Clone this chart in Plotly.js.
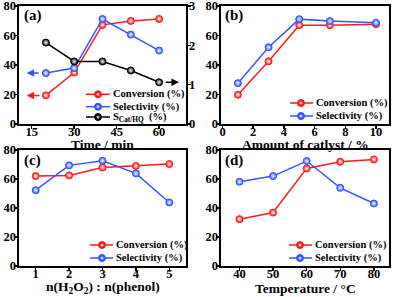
<!DOCTYPE html>
<html>
<head>
<meta charset="utf-8">
<script src="https://cdn.plot.ly/plotly-3.0.1.min.js"></script>
<style>html,body{margin:0;padding:0;background:#fff}#chart{width:393px;height:297px}</style>
</head>
<body>
<div id="chart"></div>
<script>
// ---------- data ----------
const timeMin = [20, 30, 40, 50, 60];
const convA = [19.4, 34.9, 67.2, 69.9, 71.2];
const selA = [34.5, 37.9, 71.2, 60.6, 49.8];
const sCatHQ = [2.07, 1.59, 1.59, 1.36, 1.06];

const catAmount = [1, 3, 5, 7, 10];
const convB = [19.8, 42.5, 67.0, 67.0, 67.7];
const selB = [27.7, 52.0, 71.1, 69.8, 68.6];

const ratio = [1, 2, 3, 4, 5];
const convC = [62.0, 62.5, 68.0, 69.0, 70.3];
const selC = [52.3, 69.4, 72.6, 63.9, 43.8];

const temp = [40, 50, 60, 70, 80];
const convD = [32.3, 36.9, 67.3, 71.9, 73.5];
const selD = [58.1, 62.0, 72.4, 53.9, 43.1];

const seriesNames = ['Conversion (%)', 'Selectivity (%)', 'S<sub>Cat/HQ</sub>  (%)'];
const panelLabels = ['(a)', '(b)', '(c)', '(d)'];
const axisTitles = ['Time / min', 'Amount of catlyst / %', 'n(H<sub>2</sub>O<sub>2</sub>) : n(phenol)', 'Temperature / °C'];

// ---------- style ----------
const W = 393, H = 297;
const RED = '#ff1a1a', BLUE = '#3355ff', BLACK = '#000000';
const FONT = '"Liberation Serif", "Times New Roman", serif';
const px = x => x / W;
const py = y => 1 - y / H;

function trace(x, y, color, xa, ya) {
  return {
    x: x, y: y, xaxis: xa, yaxis: ya, type: 'scatter', mode: 'lines+markers',
    showlegend: false, cliponaxis: false,
    line: {color: color, width: 1.5},
    marker: {size: 7, color: color, line: {color: color, width: 1},
             gradient: {type: 'radial', color: '#ffffff'}}
  };
}

const data = [
  trace(timeMin, convA, RED, 'x', 'y'),
  trace(timeMin, selA, BLUE, 'x', 'y'),
  trace(timeMin, sCatHQ, BLACK, 'x', 'y5'),
  trace(catAmount, convB, RED, 'x2', 'y2'),
  trace(catAmount, selB, BLUE, 'x2', 'y2'),
  trace(ratio, convC, RED, 'x3', 'y3'),
  trace(ratio, selC, BLUE, 'x3', 'y3'),
  trace(temp, convD, RED, 'x4', 'y4'),
  trace(temp, selD, BLUE, 'x4', 'y4')
];

function axis(domain, range, extra) {
  return Object.assign({
    domain: domain, range: range, showline: true, linewidth: 1.6, linecolor: '#000',
    mirror: true, ticks: 'outside', ticklen: 3, tickwidth: 1.5, tickcolor: '#000',
    showgrid: false, zeroline: false, fixedrange: true, ticklabeloverflow: 'allow',
    tickfont: {family: FONT, size: 12.5, color: '#000', weight: 'bold'}
  }, extra || {});
}
const XS = -8, YS = -4;

const xL = [px(19), px(186)], xR = [px(221), px(389)];
const yT = [py(124), py(6)], yB = [py(266), py(150)];

// ---------- legends (drawn as layout decorations) ----------
const shapes = [], annotations = [];
function legendRow(x0, x1, xm, xt, y, color, label) {
  shapes.push({type: 'line', xref: 'paper', yref: 'paper', x0: px(x0), x1: px(x1), y0: py(y), y1: py(y),
               line: {color: color, width: 1.5}});
  shapes.push({type: 'circle', xref: 'paper', yref: 'paper', xsizemode: 'pixel', ysizemode: 'pixel',
               xanchor: px(xm), yanchor: py(y), x0: -3.5, x1: 3.5, y0: -3.5, y1: 3.5,
               fillcolor: color, line: {color: color, width: 1}});
  shapes.push({type: 'circle', xref: 'paper', yref: 'paper', xsizemode: 'pixel', ysizemode: 'pixel',
               xanchor: px(xm), yanchor: py(y), x0: -1.5, x1: 1.5, y0: -1.5, y1: 1.5,
               fillcolor: 'rgba(255,255,255,0.75)', line: {width: 0}});
  annotations.push({xref: 'paper', yref: 'paper', x: px(xt), y: py(y), xanchor: 'left', yanchor: 'middle',
                    text: label, showarrow: false,
                    font: {family: FONT, size: 10.5, color: '#000', weight: 'bold'}});
}
legendRow(86, 110, 98, 111, 94.3, RED, seriesNames[0]);
legendRow(86, 110, 98, 111, 106.7, BLUE, seriesNames[1]);
legendRow(86, 110, 98, 111, 117, BLACK, seriesNames[2]);
legendRow(290, 313, 301, 314, 103, RED, seriesNames[0]);
legendRow(290, 313, 301, 314, 116, BLUE, seriesNames[1]);
legendRow(90, 113, 102, 114, 245, RED, seriesNames[0]);
legendRow(90, 113, 102, 114, 258, BLUE, seriesNames[1]);
legendRow(289, 312, 300, 313, 245, RED, seriesNames[0]);
legendRow(289, 312, 300, 313, 258, BLUE, seriesNames[1]);

// panel labels
[[22, 16], [223, 16], [22, 160], [223, 160]].forEach((p, i) => {
  annotations.push({xref: 'paper', yref: 'paper', x: px(p[0]), y: py(p[1]), xanchor: 'left', yanchor: 'middle',
                    text: panelLabels[i], showarrow: false,
                    font: {family: FONT, size: 15, color: '#000', weight: 'bold'}});
});
// axis titles
[[102.5, 144.5], [305, 144.5], [102.5, 287.5], [305, 288.5]].forEach((p, i) => {
  annotations.push({xref: 'paper', yref: 'paper', x: px(p[0]), y: py(p[1]), xanchor: 'center', yanchor: 'middle',
                    text: axisTitles[i], showarrow: false,
                    font: {family: FONT, size: 13.5, color: '#000', weight: 'bold'}});
});
// axis pointer arrows in panel (a)
function arrow(xref, yref, xh, xt, y, color) {
  annotations.push({xref: xref, yref: yref, axref: xref, ayref: yref, x: xh, y: y, ax: xt, ay: y,
                    showarrow: true, arrowhead: 2, arrowsize: 1, arrowwidth: 1.5, arrowcolor: color, text: ''});
}
arrow('x', 'y', 13.2, 18.3, convA[0], RED);
arrow('x', 'y', 13.2, 18.0, selA[0], BLUE);
arrow('x', 'y5', 67.0, 61.8, sCatHQ[4], BLACK);

const layout = {
  width: W, height: H, margin: {l: 0, r: 0, t: 0, b: 0},
  paper_bgcolor: '#fff', plot_bgcolor: 'rgba(0,0,0,0)', showlegend: false,
  font: {family: FONT, color: '#000'},
  xaxis: axis(xL, [10.5, 69.5], {anchor: 'y', tickvals: [15, 30, 45, 60], ticklabelstandoff: XS}),
  yaxis: axis(yT, [0, 80], {anchor: 'x', dtick: 20, ticklabelstandoff: YS}),
  yaxis5: axis(yT, [0, 3], {anchor: 'x', overlaying: 'y', side: 'right', dtick: 1, mirror: false, ticklabelstandoff: YS}),
  xaxis2: axis(xR, [-0.1, 10.85], {anchor: 'y2', dtick: 2, ticklabelstandoff: XS}),
  yaxis2: axis(yT, [0, 80], {anchor: 'x2', dtick: 20, ticklabelstandoff: YS}),
  xaxis3: axis(xL, [0.5, 5.5], {anchor: 'y3', dtick: 1, ticklabelstandoff: XS}),
  yaxis3: axis(yB, [0, 80], {anchor: 'x3', dtick: 20, ticklabelstandoff: YS}),
  xaxis4: axis(xR, [34.5, 84.5], {anchor: 'y4', dtick: 10, ticklabelstandoff: XS}),
  yaxis4: axis(yB, [0, 80], {anchor: 'x4', dtick: 20, ticklabelstandoff: YS}),
  shapes: shapes, annotations: annotations
};

Plotly.newPlot('chart', data, layout, {displayModeBar: false, staticPlot: true});
</script>
</body>
</html>
